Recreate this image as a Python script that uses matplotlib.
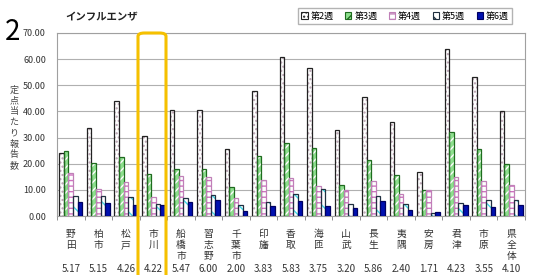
import matplotlib.pyplot as plt
import numpy as np
from matplotlib.patches import FancyBboxPatch, Patch

plt.rcParams['font.family'] = ['Noto Sans CJK JP', 'DejaVu Sans']

regions = ['野田', '柏市', '松戸', '市川', '船橋市', '習志野', '千葉市', '印旛', '香取',
           '海匝', '山武', '長生', '夷隅', '安房', '君津', '市原', '県全体']
week2 = [24.0, 33.8, 43.8, 30.5, 40.5, 40.5, 25.8, 47.8, 61.0, 56.8, 33.0, 45.5, 36.0, 17.0, 64.0, 53.0, 40.0]
week3 = [24.8, 20.3, 22.5, 16.2, 18.0, 17.8, 11.2, 23.0, 28.0, 26.2, 12.0, 21.3, 15.8, 10.0, 32.0, 25.5, 20.0]
week4 = [16.5, 10.5, 13.0, 7.4, 15.3, 15.0, 6.9, 13.8, 14.5, 11.5, 10.0, 13.5, 8.5, 9.8, 15.0, 13.2, 11.8]
week5 = [7.5, 7.5, 7.3, 4.5, 6.8, 8.0, 4.1, 5.5, 8.5, 10.5, 4.5, 7.5, 4.5, 1.2, 5.0, 6.3, 6.2]
week6 = [5.17, 5.15, 4.26, 4.22, 5.47, 6.00, 2.00, 3.83, 5.83, 3.75, 3.20, 5.86, 2.40, 1.71, 4.23, 3.55, 4.10]
series_names = ['第2週', '第3週', '第4週', '第5週', '第6週']
highlight = '市川'

# face, hatch, hatch colour, outline
styles = [
    ('white', '....', '#b8a0b0', '#222222'),
    ('#8de08d', '////', 'white', '#1f6b1f'),
    ('white', '---', '#d070c0', '#c080b8'),
    ('white', '\\\\', '#40d8e8', '#203040'),
    ('#0010b0', None, None, '#000060'),
]

fig = plt.figure(figsize=(5.35, 2.75), dpi=100)
ax = fig.add_axes([57 / 535, 1 - 216 / 275, (525 - 57) / 535, (216 - 33) / 275])

x = np.arange(len(regions))
w = 0.165
data = [week2, week3, week4, week5, week6]
for i, (vals, (fc, h, hc, ec)) in enumerate(zip(data, styles)):
    pos = x + (i - 2) * w
    if h:
        ax.bar(pos, vals, w, color=fc, hatch=h, edgecolor=hc, linewidth=0, zorder=2)
        ax.bar(pos, vals, w, fill=False, edgecolor=ec, linewidth=0.9, zorder=3)
    else:
        ax.bar(pos, vals, w, color=fc, edgecolor=ec, linewidth=0.9, zorder=3)

ax.set_xlim(-0.5, len(regions) - 0.5)
ax.set_ylim(0, 70)
ax.set_yticks(np.arange(0, 71, 10))
ax.set_yticklabels([f'{v:.2f}' for v in np.arange(0, 71, 10)], fontsize=6.5, color='#333333')
ax.yaxis.grid(True, color='#b0b0b0', linewidth=0.8, zorder=0)
ax.set_axisbelow(True)
for s in ax.spines.values():
    s.set_color('#a0a0a0')
ax.tick_params(axis='y', length=0, pad=8)
ax.set_xticks(x)
ax.set_xticklabels(['\n'.join(r) for r in regions], fontsize=7, color='#333333',
                   linespacing=1.15, va='top')
ax.tick_params(axis='x', which='major', length=0, pad=9)
ax.set_xticks(np.arange(-0.5, len(regions), 1), minor=True)
ax.tick_params(axis='x', which='minor', length=3, color='#808080')

trans = ax.get_xaxis_transform()
for xi, v in zip(x, week6):
    ax.text(xi, -0.29, f'{v:.2f}', transform=trans, ha='center', va='center',
            fontsize=7, color='#333333')

fig.text(5 / 535, 1 - 32 / 275, '2', fontsize=20, va='center', ha='left')
fig.text(65 / 535, 1 - 17 / 275, 'インフルエンザ', fontsize=7.5, fontweight='bold',
         va='center', ha='left', color='#222222')
fig.text(14 / 535, 1 - 128 / 275, '\n'.join('定点当たり報告数'), fontsize=6.5, rotation=0,
         va='center', ha='center', multialignment='center', linespacing=1.25, color='#444444')

handles = [Patch(facecolor=fc, hatch=h, edgecolor=ec, linewidth=0.8) for fc, h, hc, ec in styles]
fig.legend(handles, series_names, loc='center', bbox_to_anchor=(405 / 535, 1 - 16 / 275),
           ncol=5, fontsize=6.5, frameon=True, fancybox=False, edgecolor='#a0a0a0',
           handlelength=0.7, handleheight=0.7, handletextpad=0.3, columnspacing=1.3,
           borderpad=0.35)

box = FancyBboxPatch((138 / 535, -10 / 275), 28 / 535, 252 / 275,
                     boxstyle='round,pad=0,rounding_size=0.012', transform=fig.transFigure,
                     fill=False, edgecolor='#f5c000', linewidth=2.2, clip_on=False, zorder=10)
fig.patches.append(box)

fig.savefig('out.png', dpi=100)
